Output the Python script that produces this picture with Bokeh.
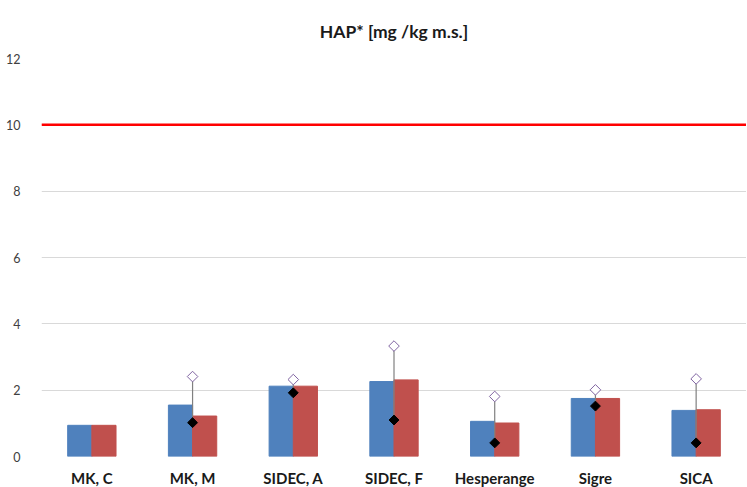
import math
from bokeh.plotting import figure
from bokeh.models import FactorRange, Range1d, Span, ColumnDataSource
from bokeh.transform import dodge
from bokeh.embed import file_html
from bokeh.resources import INLINE

categories = ["MK, C", "MK, M", "SIDEC, A", "SIDEC, F", "Hesperange", "Sigre", "SICA"]
series_blue = [0.94, 1.55, 2.12, 2.26, 1.06, 1.75, 1.39]
series_red = [0.94, 1.22, 2.12, 2.31, 1.01, 1.75, 1.41]
min_vals = [None, 1.02, 1.92, 1.10, 0.41, 1.52, 0.41]
max_vals = [None, 2.41, 2.32, 3.33, 1.81, 2.01, 2.34]
limit_value = 10
y_ticks = [0, 2, 4, 6, 8, 10, 12]
title_text = "HAP* [mg /kg m.s.]"

FONT = "Lato"

p = figure(x_range=FactorRange(*categories, range_padding=0), y_range=Range1d(0, 12),
           width=746, height=489, output_backend="svg", toolbar_location=None,
           min_border_left=41, min_border_right=0, min_border_top=58, min_border_bottom=20,
           title=title_text)
p.outline_line_color = None
p.background_fill_color = "white"
p.border_fill_color = "white"
p.title.align = "center"
p.title.offset = -6
p.title.text_font = FONT
p.title.text_font_size = "17.5px"
p.title.text_font_style = "bold"
p.title.text_color = "#1a1a1a"
p.title.standoff = 33

src = ColumnDataSource(dict(cat=categories, blue=series_blue, red=series_red))
p.vbar(x=dodge("cat", -0.12, range=p.x_range), top="blue", width=0.24, source=src,
       fill_color="#4F81BD", line_color="#4F81BD")
p.vbar(x=dodge("cat", 0.12, range=p.x_range), top="red", width=0.24, source=src,
       fill_color="#C0504D", line_color="#C0504D")

ec = [c for c, m in zip(categories, min_vals) if m is not None]
emin = [m for m in min_vals if m is not None]
emax = [m for m in max_vals if m is not None]
esrc = ColumnDataSource(dict(cat=ec, lo=emin, hi=emax))
p.segment(x0="cat", y0="lo", x1="cat", y1="hi", source=esrc, line_color="#808080", line_width=1.2)
p.scatter(x="cat", y="lo", source=esrc, marker="square", angle=math.pi / 4, size=7,
          fill_color="black", line_color="black")
p.scatter(x="cat", y="hi", source=esrc, marker="square", angle=math.pi / 4, size=7.5,
          fill_color="white", line_color="#8064A2", line_width=1)

p.add_layout(Span(location=limit_value, dimension="width", line_color="#FF0000", line_width=2.5))

p.yaxis.ticker = y_ticks
p.yaxis.axis_line_color = None
p.yaxis.major_tick_line_color = None
p.yaxis.minor_tick_line_color = None
p.yaxis.major_label_standoff = 15
p.yaxis.major_label_text_font = FONT
p.yaxis.major_label_text_font_size = "12.5px"
p.yaxis.major_label_text_color = "#404040"

p.xaxis.axis_line_color = None
p.xaxis.major_tick_line_color = None
p.xaxis.major_label_standoff = 6
p.xaxis.major_label_text_font = FONT
p.xaxis.major_label_text_font_style = "bold"
p.xaxis.major_label_text_font_size = "15px"
p.xaxis.major_label_text_color = "#1a1a1a"

p.xgrid.grid_line_color = None
p.ygrid.grid_line_color = "#D9D9D9"
p.ygrid.grid_line_width = 1

open("out.html", "w").write(file_html(p, INLINE))
